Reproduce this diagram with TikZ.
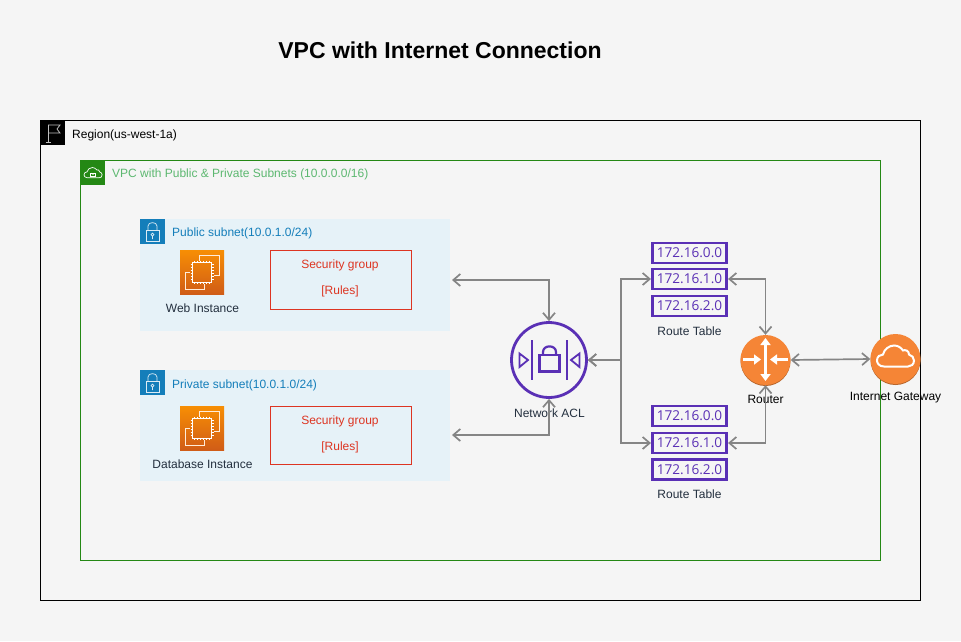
\documentclass[tikz,border=0pt]{standalone}
\usepackage{fontspec}
\setmainfont{Liberation Sans}
\newfontfamily\ipfont{Open Sans}
\usetikzlibrary{arrows.meta}
\definecolor{pagebg}{HTML}{F5F5F5}
\definecolor{vpcgreen}{HTML}{248814}
\definecolor{vpctext}{HTML}{5CB870}
\definecolor{subnetblue}{HTML}{147EBA}
\definecolor{subnetbg}{HTML}{E6F2F8}
\definecolor{sgred}{HTML}{DD3522}
\definecolor{aclpurple}{HTML}{5A30B5}
\definecolor{awsorange}{HTML}{F58536}
\definecolor{awsdark}{HTML}{B8662C}
\definecolor{labelink}{HTML}{232F3E}
\definecolor{linkgray}{HTML}{858585}
\definecolor{insttop}{HTML}{F78E04}
\definecolor{instbottom}{HTML}{D05C17}
\tikzset{
  box/.style={draw,line width=1pt,rectangle,inner sep=0pt,anchor=north west},
  tag/.style={rectangle,inner sep=0pt,anchor=north west,minimum size=25},
  lbl/.style={inner sep=0pt,font=\fontsize{12}{14}\selectfont},
  sglbl/.style={lbl,text=sgred},
  ipbox/.style={draw=aclpurple,line width=2.6pt,fill=pagebg,inner sep=0pt,minimum width=74.5,minimum height=20,
    text=aclpurple,font=\ipfont\fontsize{13.6}{16}\selectfont},
  link/.style={draw=linkgray,line width=1.7pt,{Straight Barb[length=7pt,width=12pt]}-{Straight Barb[length=7pt,width=12pt]}},
  whitetip/.style={draw=white,line width=2.6pt,-{Triangle[length=7pt,width=10pt]}},
  instancebox/.style={rectangle,inner sep=0pt,anchor=north west,minimum size=44,top color=insttop,bottom color=instbottom},
  instanceicon/.pic={
    \draw[white,line width=1pt] (12.5,12.5) rectangle (31.5,32);
    \foreach \p in {14,17,20,23,26,29} {
      \draw[white,line width=.8pt] (\p,10.5) -- (\p,12.5) (\p,32) -- (\p,34);
      \draw[white,line width=.8pt] (10.5,\p+.5) -- (12.5,\p+.5) (31.5,\p+.5) -- (33.5,\p+.5);
    }
    \draw[white!85!orange,line width=1pt] (19,11) -- (19,5) -- (39,5) -- (39,25) -- (34,25);
    \draw[white!85!orange,line width=1pt] (10,22) -- (5,22) -- (5,39) -- (24,39) -- (24,34);
  },
  subneticon/.pic={
    \draw[white!85!subnetblue,line width=.7pt] (6,11) rectangle (19,22.5);
    \draw[white!85!subnetblue,line width=.7pt] (8,11) -- (8,7) .. controls (8,2.5) and (17,2.5) .. (17,7) -- (17,11);
    \draw[white!85!subnetblue,line width=.7pt] (12.5,15.5) circle (1.5) (12.5,17) -- (12.5,20);
  },
  cloudicon/.pic={
    \draw[white,line width=\pgfkeysvalueof{/tikz/cloudline}] (7,21) .. controls (2,21) and (0,17.5) .. (0,15)
      .. controls (0,11) and (3,9) .. (6,9) .. controls (7,4) and (12,0) .. (17,0)
      .. controls (21,0) and (24,2) .. (26,5) .. controls (28,4) and (32,5) .. (32,9)
      .. controls (35,10) and (37,12) .. (37,15) .. controls (37,19) and (34,21) .. (31,21) -- cycle;
  },
  cloudline/.initial=2pt
}
\begin{document}
\begin{tikzpicture}[x=1pt,y=-1pt]
  \useasboundingbox[fill=pagebg] (0,0) rectangle (961,641);
  \node[font=\bfseries\fontsize{23}{26}\selectfont,inner sep=0pt] (title) at (440,50) {VPC with Internet Connection};

  % containers
  \node[box,draw=black,minimum width=880,minimum height=480] (region) at (40,120) {};
  \node[tag,fill=black] (regiontag) at (40,120) {};
  \draw[white!75!black,line width=.8pt] (48,124.5) -- (48,142) (45.5,142) -- (50.5,142);
  \draw[white!75!black,line width=.8pt] (48,125) -- (60,125) -- (57,129) -- (60,133) -- (48,133);
  \node[lbl,anchor=west,text=black] (regionlbl) at (72,135) {Region(us-west-1a)};

  \node[box,draw=vpcgreen,minimum width=800,minimum height=400] (vpc) at (80,160) {};
  \node[tag,fill=vpcgreen] (vpctag) at (80,160) {};
  \pic[cloudline=.7pt] at (84,167.5) [scale=.49] {cloudicon};
  \draw[white,line width=.6pt] (90.5,173) rectangle (95.5,176.5);
  \draw[white,line width=.6pt] (91.5,173) arc (180:0:1.5);
  \node[lbl,anchor=west,text=vpctext] (vpclbl) at (112,174) {VPC with Public \& Private Subnets (10.0.0.0/16)};

  % subnets
  \node[rectangle,inner sep=0pt,anchor=north west,fill=subnetbg,minimum width=310,minimum height=112] (pubnet) at (140,219) {};
  \node[tag,fill=subnetblue] (pubtag) at (140,219) {};
  \pic at (140,219) {subneticon};
  \node[lbl,anchor=west,text=subnetblue] (publbl) at (172,233.5) {Public subnet(10.0.1.0/24)};
  \node[instancebox] (webinst) at (180,250) {};
  \pic at (180,250) {instanceicon};
  \node[lbl,text=labelink] (weblbl) at (202.5,308) {Web Instance};
  \node[box,draw=sgred,minimum width=141,minimum height=58.5] (pubsg) at (270,250) {};
  \node[sglbl] (pubsglbl) at (340,265) {Security group};
  \node[sglbl] (pubrules) at (340,291.5) {[Rules]};

  \node[rectangle,inner sep=0pt,anchor=north west,fill=subnetbg,minimum width=310,minimum height=111] (privnet) at (140,370) {};
  \node[tag,fill=subnetblue] (privtag) at (140,370) {};
  \pic at (140,370) {subneticon};
  \node[lbl,anchor=west,text=subnetblue] (privlbl) at (172,385) {Private subnet(10.0.1.0/24)};
  \node[instancebox] (dbinst) at (180,406) {};
  \pic at (180,406) {instanceicon};
  \node[lbl,text=labelink] (dblbl) at (202.5,464) {Database Instance};
  \node[box,draw=sgred,minimum width=141,minimum height=58.5] (privsg) at (270,405.5) {};
  \node[sglbl] (privsglbl) at (340,421) {Security group};
  \node[sglbl] (privrules) at (340,447.5) {[Rules]};

  % network acl
  \node[circle,draw=aclpurple,line width=2.8pt,inner sep=0pt,minimum size=75] (acl) at (549,360) {};
  \draw[aclpurple,line width=2.4pt] (532,340) -- (532,380) (567,340) -- (567,380);
  \draw[aclpurple,line width=2.2pt] (539.5,355) rectangle (559.5,371.5);
  \draw[aclpurple,line width=2.2pt] (543,355) -- (543,352) .. controls (543,344.5) and (556,344.5) .. (556,352) -- (556,355);
  \draw[aclpurple,line width=1.8pt] (519.5,353.5) -- (528,360) -- (519.5,367) -- cycle;
  \draw[aclpurple,line width=1.8pt] (579.5,353.5) -- (571,360) -- (579.5,367) -- cycle;
  \node[lbl,text=labelink] (acllbl) at (549.5,413) {Network ACL};

  % route tables
  \foreach \n/\y/\ip in {a0/253/172.16.0.0,a1/279/172.16.1.0,a2/306/172.16.2.0,b0/416/172.16.0.0,b1/443/172.16.1.0,b2/469.5/172.16.2.0} {
    \node[ipbox] (rt\n) at (689.5,\y) {\ip};
  }
  \node[lbl,text=labelink] (rtalbl) at (689.5,331) {Route Table};
  \node[lbl,text=labelink] (rtblbl) at (689.5,494) {Route Table};

  % router and gateway
  \fill[awsdark] (765.5,361) circle (25);
  \node[circle,fill=awsorange,inner sep=0pt,minimum size=50] (router) at (765.5,360) {};
  \draw[whitetip,{Triangle[length=7pt,width=10pt]}-{Triangle[length=7pt,width=10pt]}] (765.5,338) -- (765.5,381);
  \draw[whitetip] (743,359.5) -- (761,359.5);
  \draw[whitetip] (788,359.5) -- (770,359.5);
  \node[lbl,text=black] (routerlbl) at (765.5,399) {Router};

  \fill[awsdark] (895.5,360) circle (25);
  \node[circle,fill=awsorange,inner sep=0pt,minimum size=50] (igw) at (895.5,359) {};
  \pic at (877,345.5) {cloudicon};
  \node[lbl,text=black] (igwlbl) at (895.5,398) {Internet Gateway};

  % connectors
  \coordinate (pubend) at (452,280);
  \coordinate (privend) at (452,435);
  \coordinate (aclfork) at (621,360);
  \draw[link] (pubend) -| (acl.north);
  \draw[link] (privend) -| (acl.south);
  \draw[link] (acl.east) -- (aclfork) |- (rta1.west);
  \draw[link] (acl.east) -- (aclfork) |- (rtb1.west);
  \draw[link] (rta1.east) -| (router.north);
  \draw[link] (rtb1.east) -| (router.south);
  \draw[link] (router.east) -- (igw.west);
\end{tikzpicture}
\end{document}
